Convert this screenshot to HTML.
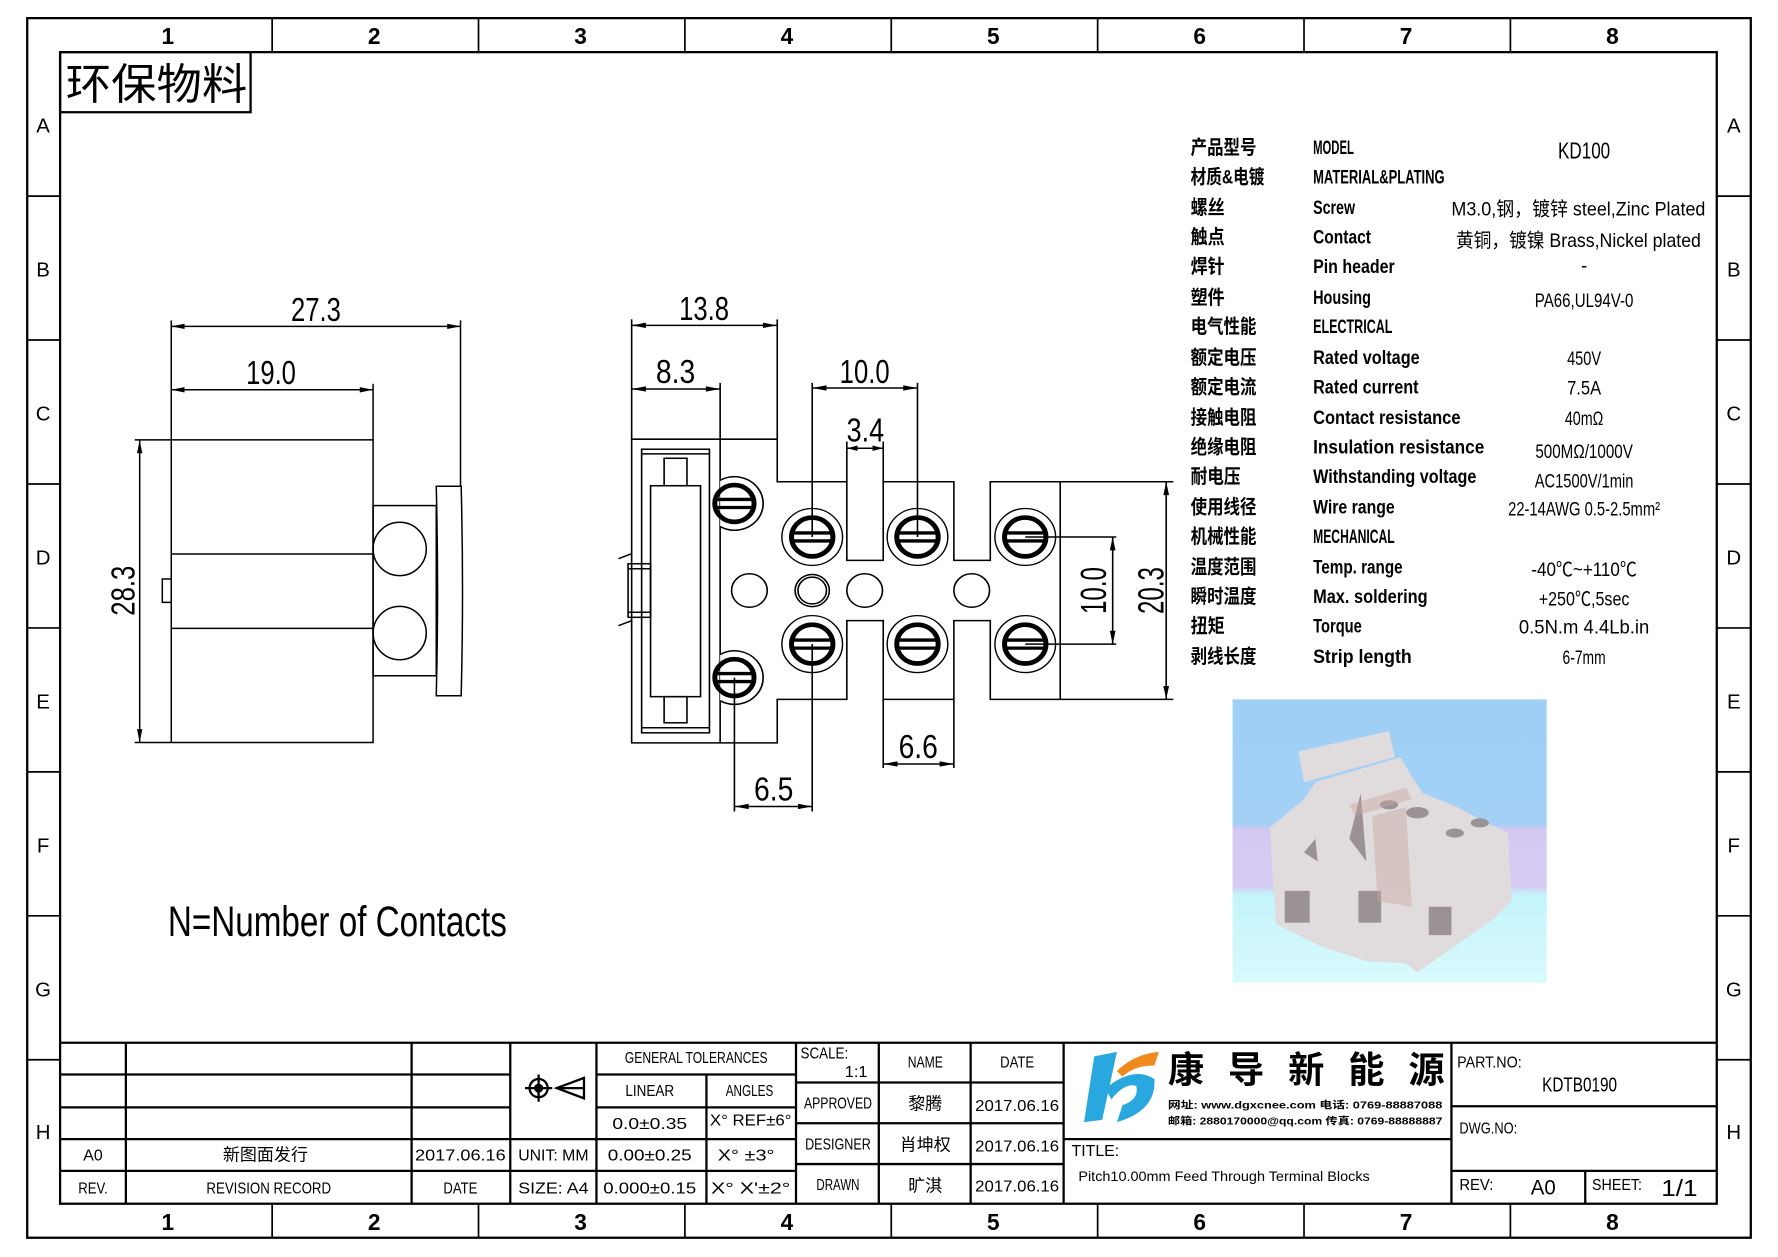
<!DOCTYPE html>
<html><head><meta charset="utf-8"><style>
html,body{margin:0;padding:0;background:#fff;}
svg{display:block;}
text{font-family:"Liberation Sans Narrow","Liberation Sans","Noto Sans CJK SC",sans-serif;fill:#000;}
.cj{font-family:"Liberation Sans","Noto Sans CJK SC",sans-serif;}
</style></head><body>
<svg width="1778" height="1257" viewBox="0 0 1568 1109" preserveAspectRatio="none" xmlns="http://www.w3.org/2000/svg">
<rect x="0" y="0" width="1568" height="1109" fill="#fff"/>
<!-- frame -->
<g fill="none" stroke="#000" stroke-width="2">
<rect x="24" y="16" width="1520" height="1076"/>
<rect x="53" y="46" width="1461" height="1016"/>
</g>
<g stroke="#000" stroke-width="1.5">
<line x1="240" y1="16" x2="240" y2="46"/><line x1="422" y1="16" x2="422" y2="46"/><line x1="604" y1="16" x2="604" y2="46"/><line x1="786" y1="16" x2="786" y2="46"/><line x1="968" y1="16" x2="968" y2="46"/><line x1="1150" y1="16" x2="1150" y2="46"/><line x1="1332" y1="16" x2="1332" y2="46"/>
<line x1="240" y1="1062" x2="240" y2="1092"/><line x1="422" y1="1062" x2="422" y2="1092"/><line x1="604" y1="1062" x2="604" y2="1092"/><line x1="786" y1="1062" x2="786" y2="1092"/><line x1="968" y1="1062" x2="968" y2="1092"/><line x1="1150" y1="1062" x2="1150" y2="1092"/><line x1="1332" y1="1062" x2="1332" y2="1092"/>
<line x1="24" y1="173" x2="53" y2="173"/><line x1="24" y1="300" x2="53" y2="300"/><line x1="24" y1="427" x2="53" y2="427"/><line x1="24" y1="554" x2="53" y2="554"/><line x1="24" y1="681" x2="53" y2="681"/><line x1="24" y1="808" x2="53" y2="808"/><line x1="24" y1="935" x2="53" y2="935"/>
<line x1="1514" y1="173" x2="1544" y2="173"/><line x1="1514" y1="300" x2="1544" y2="300"/><line x1="1514" y1="427" x2="1544" y2="427"/><line x1="1514" y1="554" x2="1544" y2="554"/><line x1="1514" y1="681" x2="1544" y2="681"/><line x1="1514" y1="808" x2="1544" y2="808"/><line x1="1514" y1="935" x2="1544" y2="935"/>
</g>
<g font-size="20" text-anchor="middle" font-weight="bold">
<text x="148" y="39">1</text><text x="330" y="39">2</text><text x="512" y="39">3</text><text x="694" y="39">4</text><text x="876" y="39">5</text><text x="1058" y="39">6</text><text x="1240" y="39">7</text><text x="1422" y="39">8</text>
<text x="148" y="1085">1</text><text x="330" y="1085">2</text><text x="512" y="1085">3</text><text x="694" y="1085">4</text><text x="876" y="1085">5</text><text x="1058" y="1085">6</text><text x="1240" y="1085">7</text><text x="1422" y="1085">8</text>
</g>
<g font-size="18" text-anchor="middle">
<text x="38" y="117">A</text><text x="38" y="244">B</text><text x="38" y="371">C</text><text x="38" y="498">D</text><text x="38" y="625">E</text><text x="38" y="752">F</text><text x="38" y="879">G</text><text x="38" y="1005">H</text>
<text x="1529" y="117">A</text><text x="1529" y="244">B</text><text x="1529" y="371">C</text><text x="1529" y="498">D</text><text x="1529" y="625">E</text><text x="1529" y="752">F</text><text x="1529" y="879">G</text><text x="1529" y="1005">H</text>
</g>
<!-- stamp -->
<rect x="53" y="46" width="168" height="53" fill="none" stroke="#000" stroke-width="2"/>
<text class="cj" x="58" y="88" font-size="38" textLength="160" lengthAdjust="spacingAndGlyphs">环保物料</text>

<!-- LEFT VIEW -->
<g transform="matrix(0.2932,0,0,0.2944,88,265)" fill="none" stroke="#000" stroke-width="4.5">
<rect x="215" y="418" width="607" height="907"/>
<line x1="215" y1="760" x2="822" y2="760"/><line x1="215" y1="983" x2="822" y2="983"/>
<rect x="188" y="835" width="27" height="70"/>
<rect x="822" y="615" width="190" height="510"/>
<circle cx="902" cy="745" r="80"/><circle cx="902" cy="997" r="80"/>
<path d="M1012,557 L1087,557 Q1095,870 1087,1185 L1012,1185 Q1020,870 1012,557Z"/>
<line x1="215" y1="60" x2="215" y2="418"/><line x1="1085" y1="60" x2="1085" y2="557"/>
<line x1="215" y1="78" x2="1085" y2="78"/>
<line x1="822" y1="250" x2="822" y2="418"/>
<line x1="215" y1="268" x2="822" y2="268"/>
<line x1="105" y1="418" x2="215" y2="418"/><line x1="105" y1="1325" x2="215" y2="1325"/>
<line x1="120" y1="418" x2="120" y2="1325"/>
<g fill="#000" stroke="none">
<path d="M215,78 l40,-8 v16z"/><path d="M1085,78 l-40,-8 v16z"/>
<path d="M215,268 l40,-8 v16z"/><path d="M822,268 l-40,-8 v16z"/>
<path d="M120,418 l-8,40 h16z"/><path d="M120,1325 l-8,-40 h16z"/>
</g>
<g fill="#000" stroke="none" font-size="100" text-anchor="middle">
<text x="650" y="62" textLength="150" lengthAdjust="spacingAndGlyphs">27.3</text>
<text x="515" y="250" textLength="150" lengthAdjust="spacingAndGlyphs">19.0</text>
<text x="0" y="0" transform="translate(105,870) rotate(-90)" textLength="150" lengthAdjust="spacingAndGlyphs">28.3</text>
</g>
</g>

<!-- RIGHT VIEW -->
<g transform="matrix(0.3147,0,0,0.2954,545.4,264)" fill="none" stroke="#000" stroke-width="4.5">
<path d="M37,418 L445,418 L445,545 L640,545 L640,780 L742,780 L742,545 L940,545 L940,780 L1042,780 L1042,545 L1238,545 L1238,1195 L1042,1195 L1042,960 L940,960 L940,1195 L742,1195 L742,960 L640,960 L640,1195 L445,1195 L445,1325 L37,1325 Z"/>
<line x1="285" y1="418" x2="285" y2="1325"/>
<rect x="65" y="448" width="190" height="847"/>
<rect x="90" y="557" width="140" height="630"/>
<rect x="128" y="475" width="64" height="82"/><rect x="128" y="1187" width="64" height="78"/>
<line x1="65" y1="462" x2="255" y2="462"/><line x1="65" y1="1280" x2="255" y2="1280"/>
<path d="M37,760 L0,775 M37,960 L0,975"/>
<rect x="27" y="790" width="63" height="160"/>
<line x1="27" y1="805" x2="90" y2="805"/><line x1="27" y1="935" x2="90" y2="935"/>
<path d="M285,541 A80,80 0 1 1 285,679" fill="#fff"/>
<path d="M285,1061 A80,80 0 1 1 285,1199" fill="#fff"/>
<circle cx="367" cy="870" r="50"/><circle cx="543" cy="870" r="48"/><circle cx="543" cy="870" r="40"/><circle cx="690" cy="870" r="50"/><circle cx="990" cy="870" r="50"/>
<!-- dims -->
<line x1="37" y1="60" x2="37" y2="418"/><line x1="445" y1="60" x2="445" y2="418"/>
<line x1="37" y1="78" x2="445" y2="78"/>
<line x1="285" y1="250" x2="285" y2="418"/>
<line x1="37" y1="268" x2="285" y2="268"/>
<line x1="543" y1="250" x2="543" y2="710"/><line x1="838" y1="250" x2="838" y2="710"/>
<line x1="543" y1="265" x2="838" y2="265"/>
<line x1="640" y1="425" x2="640" y2="545"/><line x1="742" y1="425" x2="742" y2="545"/>
<line x1="640" y1="445" x2="742" y2="445"/>
<line x1="1238" y1="545" x2="1555" y2="545"/><line x1="1238" y1="1195" x2="1555" y2="1195"/>
<line x1="1535" y1="545" x2="1535" y2="1195"/>
<line x1="1140" y1="710" x2="1395" y2="710"/><line x1="1140" y1="1030" x2="1395" y2="1030"/>
<line x1="1385" y1="710" x2="1385" y2="1030"/>
<line x1="742" y1="1195" x2="742" y2="1400"/><line x1="940" y1="1195" x2="940" y2="1400"/>
<line x1="742" y1="1388" x2="940" y2="1388"/>
<line x1="325" y1="1130" x2="325" y2="1530"/><line x1="543" y1="1030" x2="543" y2="1530"/>
<line x1="325" y1="1515" x2="543" y2="1515"/>
<g fill="#000" stroke="none">
<path d="M37,78 l40,-8 v16z"/><path d="M445,78 l-40,-8 v16z"/>
<path d="M37,268 l40,-8 v16z"/><path d="M285,268 l-40,-8 v16z"/>
<path d="M543,265 l40,-8 v16z"/><path d="M838,265 l-40,-8 v16z"/>
<path d="M640,445 l30,-8 v16z"/><path d="M742,445 l-30,-8 v16z"/>
<path d="M1535,545 l-8,40 h16z"/><path d="M1535,1195 l-8,-40 h16z"/>
<path d="M1385,710 l-8,40 h16z"/><path d="M1385,1030 l-8,-40 h16z"/>
<path d="M742,1388 l40,-8 v16z"/><path d="M940,1388 l-40,-8 v16z"/>
<path d="M325,1515 l40,-8 v16z"/><path d="M543,1515 l-40,-8 v16z"/>
</g>
<g fill="#000" stroke="none" font-size="100" text-anchor="middle">
<text x="240" y="62" textLength="140" lengthAdjust="spacingAndGlyphs">13.8</text>
<text x="160" y="250" textLength="110" lengthAdjust="spacingAndGlyphs">8.3</text>
<text x="690" y="250" textLength="140" lengthAdjust="spacingAndGlyphs">10.0</text>
<text x="692" y="425" textLength="105" lengthAdjust="spacingAndGlyphs">3.4</text>
<text x="840" y="1370" textLength="110" lengthAdjust="spacingAndGlyphs">6.6</text>
<text x="435" y="1497" textLength="110" lengthAdjust="spacingAndGlyphs">6.5</text>
<text x="0" y="0" transform="translate(1366,870) rotate(-90)" textLength="140" lengthAdjust="spacingAndGlyphs">10.0</text>
<text x="0" y="0" transform="translate(1528,870) rotate(-90)" textLength="140" lengthAdjust="spacingAndGlyphs">20.3</text>
</g>
</g>
<!-- screws -->
<g transform="matrix(0.3147,0,0,0.2954,545.4,264)" stroke="#000" fill="none">
<g stroke-width="4"><circle cx="543" cy="710" r="85"/><circle cx="838" cy="710" r="85"/><circle cx="1140" cy="710" r="85"/><circle cx="543" cy="1030" r="85"/><circle cx="838" cy="1030" r="85"/><circle cx="1140" cy="1030" r="85"/></g>
<g stroke-width="14">
<circle cx="325" cy="610" r="55"/><circle cx="325" cy="1130" r="55"/>
<circle cx="543" cy="710" r="58"/><circle cx="838" cy="710" r="58"/><circle cx="1140" cy="710" r="58"/><circle cx="543" cy="1030" r="58"/><circle cx="838" cy="1030" r="58"/><circle cx="1140" cy="1030" r="58"/>
</g>
<g stroke-width="10">
<path d="M270,598 h110 M270,622 h110 M270,1118 h110 M270,1142 h110"/>
<path d="M487,698 h112 M487,722 h112 M782,698 h112 M782,722 h112 M1084,698 h112 M1084,722 h112"/>
<path d="M487,1018 h112 M487,1042 h112 M782,1018 h112 M782,1042 h112 M1084,1018 h112 M1084,1042 h112"/>
</g>
</g>

<text x="148" y="826" font-size="38" textLength="299" lengthAdjust="spacingAndGlyphs">N=Number of Contacts</text>

<!-- spec table -->
<g font-size="17">
<g class="cj" font-weight="bold">
<text class="cj" x="1050" y="136" textLength="58" lengthAdjust="spacingAndGlyphs">产品型号</text>
<text class="cj" x="1050" y="162" textLength="65" lengthAdjust="spacingAndGlyphs">材质&amp;电镀</text>
<text class="cj" x="1050" y="189" textLength="30" lengthAdjust="spacingAndGlyphs">螺丝</text>
<text class="cj" x="1050" y="215" textLength="30" lengthAdjust="spacingAndGlyphs">触点</text>
<text class="cj" x="1050" y="241" textLength="30" lengthAdjust="spacingAndGlyphs">焊针</text>
<text class="cj" x="1050" y="268" textLength="30" lengthAdjust="spacingAndGlyphs">塑件</text>
<text class="cj" x="1050" y="294" textLength="58" lengthAdjust="spacingAndGlyphs">电气性能</text>
<text class="cj" x="1050" y="321" textLength="58" lengthAdjust="spacingAndGlyphs">额定电压</text>
<text class="cj" x="1050" y="347" textLength="58" lengthAdjust="spacingAndGlyphs">额定电流</text>
<text class="cj" x="1050" y="374" textLength="58" lengthAdjust="spacingAndGlyphs">接触电阻</text>
<text class="cj" x="1050" y="400" textLength="58" lengthAdjust="spacingAndGlyphs">绝缘电阻</text>
<text class="cj" x="1050" y="426" textLength="44" lengthAdjust="spacingAndGlyphs">耐电压</text>
<text class="cj" x="1050" y="453" textLength="58" lengthAdjust="spacingAndGlyphs">使用线径</text>
<text class="cj" x="1050" y="479" textLength="58" lengthAdjust="spacingAndGlyphs">机械性能</text>
<text class="cj" x="1050" y="506" textLength="58" lengthAdjust="spacingAndGlyphs">温度范围</text>
<text class="cj" x="1050" y="532" textLength="58" lengthAdjust="spacingAndGlyphs">瞬时温度</text>
<text class="cj" x="1050" y="558" textLength="30" lengthAdjust="spacingAndGlyphs">扭矩</text>
<text class="cj" x="1050" y="585" textLength="58" lengthAdjust="spacingAndGlyphs">剥线长度</text>
</g>
<g font-weight="bold">
<text x="1158" y="136" textLength="36" lengthAdjust="spacingAndGlyphs">MODEL</text>
<text x="1158" y="162" textLength="116" lengthAdjust="spacingAndGlyphs">MATERIAL&amp;PLATING</text>
<text x="1158" y="189" textLength="37" lengthAdjust="spacingAndGlyphs">Screw</text>
<text x="1158" y="215" textLength="51" lengthAdjust="spacingAndGlyphs">Contact</text>
<text x="1158" y="241" textLength="72" lengthAdjust="spacingAndGlyphs">Pin header</text>
<text x="1158" y="268" textLength="51" lengthAdjust="spacingAndGlyphs">Housing</text>
<text x="1158" y="294" textLength="70" lengthAdjust="spacingAndGlyphs">ELECTRICAL</text>
<text x="1158" y="321" textLength="94" lengthAdjust="spacingAndGlyphs">Rated voltage</text>
<text x="1158" y="347" textLength="93" lengthAdjust="spacingAndGlyphs">Rated current</text>
<text x="1158" y="374" textLength="130" lengthAdjust="spacingAndGlyphs">Contact resistance</text>
<text x="1158" y="400" textLength="151" lengthAdjust="spacingAndGlyphs">Insulation resistance</text>
<text x="1158" y="426" textLength="144" lengthAdjust="spacingAndGlyphs">Withstanding voltage</text>
<text x="1158" y="453" textLength="72" lengthAdjust="spacingAndGlyphs">Wire range</text>
<text x="1158" y="479" textLength="72" lengthAdjust="spacingAndGlyphs">MECHANICAL</text>
<text x="1158" y="506" textLength="79" lengthAdjust="spacingAndGlyphs">Temp. range</text>
<text x="1158" y="532" textLength="101" lengthAdjust="spacingAndGlyphs">Max. soldering</text>
<text x="1158" y="558" textLength="43" lengthAdjust="spacingAndGlyphs">Torque</text>
<text x="1158" y="585" textLength="87" lengthAdjust="spacingAndGlyphs">Strip length</text>
</g>
<g text-anchor="middle">
<text x="1397" y="140" font-size="20" textLength="46" lengthAdjust="spacingAndGlyphs">KD100</text>
<text x="1392" y="190" textLength="224" lengthAdjust="spacingAndGlyphs">M3.0,钢，镀锌 steel,Zinc Plated</text>
<text x="1392" y="218" textLength="216" lengthAdjust="spacingAndGlyphs">黄铜，镀镍 Brass,Nickel plated</text>
<text x="1397" y="240">-</text>
<text x="1397" y="271" textLength="87" lengthAdjust="spacingAndGlyphs">PA66,UL94V-0</text>
<text x="1397" y="322" textLength="30" lengthAdjust="spacingAndGlyphs">450V</text>
<text x="1397" y="348" textLength="30" lengthAdjust="spacingAndGlyphs">7.5A</text>
<text x="1397" y="375" textLength="34" lengthAdjust="spacingAndGlyphs">40mΩ</text>
<text x="1397" y="404" textLength="86" lengthAdjust="spacingAndGlyphs">500MΩ/1000V</text>
<text x="1397" y="430" textLength="87" lengthAdjust="spacingAndGlyphs">AC1500V/1min</text>
<text x="1397" y="455" textLength="134" lengthAdjust="spacingAndGlyphs">22-14AWG 0.5-2.5mm²</text>
<text x="1397" y="508" textLength="93" lengthAdjust="spacingAndGlyphs">-40℃~+110℃</text>
<text x="1397" y="534" textLength="80" lengthAdjust="spacingAndGlyphs">+250℃,5sec</text>
<text x="1397" y="559" textLength="115" lengthAdjust="spacingAndGlyphs">0.5N.m  4.4Lb.in</text>
<text x="1397" y="586" textLength="38" lengthAdjust="spacingAndGlyphs">6-7mm</text>
</g>
</g>

<!-- photo -->
<defs>
<linearGradient id="bg" x1="0" y1="0" x2="0" y2="1">
<stop offset="0" stop-color="#9fcff5"/><stop offset="0.44" stop-color="#a4d0f6"/>
<stop offset="0.46" stop-color="#d4c8f2"/><stop offset="0.66" stop-color="#d6ccf2"/>
<stop offset="0.69" stop-color="#c4f4fb"/><stop offset="1" stop-color="#d8fafd"/>
</linearGradient>
</defs>
<rect x="1087" y="617" width="277" height="250" fill="url(#bg)"/>
<g fill="#e0dcde" stroke="none">
<polygon points="1145,663 1225,645 1230,668 1150,690"/>
<polygon points="1120,730 1150,705 1160,690 1235,668 1245,685 1255,700 1285,712 1300,720 1330,735 1333,795 1318,810 1250,858 1240,850 1205,848 1165,835 1125,815"/>
</g>
<g fill="#9a9294">
<rect x="1133" y="786" width="22" height="28"/><rect x="1198" y="786" width="20" height="28"/><rect x="1260" y="800" width="20" height="25"/>
<polygon points="1150,752 1160,740 1162,760"/><polygon points="1190,740 1200,700 1205,760"/>
<ellipse cx="1250" cy="717" rx="10" ry="5"/><ellipse cx="1283" cy="735" rx="8" ry="4"/><ellipse cx="1305" cy="726" rx="8" ry="4"/><ellipse cx="1225" cy="710" rx="8" ry="4"/>
</g>
<g fill="#c9a8a0" opacity="0.45"><polygon points="1190,710 1240,695 1245,705 1195,720"/><polygon points="1210,720 1240,712 1245,800 1215,795"/></g>

<!-- title block -->
<g stroke="#000" stroke-width="2" fill="none">
<line x1="53" y1="920" x2="1514" y2="920"/>
<line x1="53" y1="948" x2="450" y2="948"/><line x1="53" y1="977" x2="450" y2="977"/><line x1="53" y1="1005" x2="702" y2="1005"/><line x1="53" y1="1033" x2="702" y2="1033"/>
<line x1="526" y1="948" x2="702" y2="948"/><line x1="526" y1="977" x2="702" y2="977"/>
<line x1="111" y1="920" x2="111" y2="1062"/><line x1="363" y1="920" x2="363" y2="1062"/><line x1="450" y1="920" x2="450" y2="1062"/><line x1="526" y1="920" x2="526" y2="1062"/><line x1="623" y1="948" x2="623" y2="1062"/><line x1="702" y1="920" x2="702" y2="1062"/>
<line x1="775" y1="920" x2="775" y2="1062"/><line x1="856" y1="920" x2="856" y2="1062"/><line x1="938" y1="920" x2="938" y2="1062"/>
<line x1="702" y1="955" x2="938" y2="955"/><line x1="702" y1="991" x2="938" y2="991"/><line x1="702" y1="1027" x2="938" y2="1027"/>
<line x1="938" y1="1005" x2="1280" y2="1005"/>
<line x1="1280" y1="920" x2="1280" y2="1062"/>
<line x1="1280" y1="976" x2="1514" y2="976"/><line x1="1280" y1="1033" x2="1514" y2="1033"/>
<line x1="1398" y1="1033" x2="1398" y2="1062"/>
</g>
<g stroke="#000" fill="none" stroke-width="2">
<circle cx="475" cy="960" r="8"/><circle cx="475" cy="960" r="3" fill="#000"/>
<line x1="463" y1="960" x2="487" y2="960"/><line x1="475" y1="948" x2="475" y2="972"/>
<path d="M491,960 L515,951 L515,969 Z M491,960 h24"/>
</g>
<g font-size="14" text-anchor="middle">
<text x="82" y="1024">A0</text><text x="82" y="1053" textLength="26" lengthAdjust="spacingAndGlyphs">REV.</text>
<text class="cj" x="234" y="1024" font-size="15">新图面发行</text>
<text x="237" y="1053" textLength="110" lengthAdjust="spacingAndGlyphs">REVISION RECORD</text>
<text x="406" y="1024" textLength="80" lengthAdjust="spacingAndGlyphs">2017.06.16</text>
<text x="406" y="1053" textLength="30" lengthAdjust="spacingAndGlyphs">DATE</text>
<text x="488" y="1024" textLength="62" lengthAdjust="spacingAndGlyphs">UNIT: MM</text>
<text x="488" y="1053" textLength="62" lengthAdjust="spacingAndGlyphs">SIZE: A4</text>
<text x="614" y="938" textLength="126" lengthAdjust="spacingAndGlyphs">GENERAL TOLERANCES</text>
<text x="573" y="967" textLength="43" lengthAdjust="spacingAndGlyphs">LINEAR</text>
<text x="661" y="967" textLength="42" lengthAdjust="spacingAndGlyphs">ANGLES</text>
<text x="573" y="996" textLength="66" lengthAdjust="spacingAndGlyphs">0.0±0.35</text>
<text x="573" y="1024" textLength="74" lengthAdjust="spacingAndGlyphs">0.00±0.25</text>
<text x="573" y="1053" textLength="82" lengthAdjust="spacingAndGlyphs">0.000±0.15</text>
<text x="662" y="993" textLength="72" lengthAdjust="spacingAndGlyphs">X° REF±6°</text>
<text x="658" y="1024" textLength="50" lengthAdjust="spacingAndGlyphs">X° ±3°</text>
<text x="662" y="1053" textLength="70" lengthAdjust="spacingAndGlyphs">X° X'±2°</text>
<text x="727" y="934" textLength="42" lengthAdjust="spacingAndGlyphs">SCALE:</text>
<text x="755" y="950" textLength="20" lengthAdjust="spacingAndGlyphs">1:1</text>
<text x="816" y="942" textLength="31" lengthAdjust="spacingAndGlyphs">NAME</text>
<text x="897" y="942" textLength="30" lengthAdjust="spacingAndGlyphs">DATE</text>
<text x="739" y="978" textLength="60" lengthAdjust="spacingAndGlyphs">APPROVED</text>
<text x="739" y="1014" textLength="58" lengthAdjust="spacingAndGlyphs">DESIGNER</text>
<text x="739" y="1050" textLength="38" lengthAdjust="spacingAndGlyphs">DRAWN</text>
<text class="cj" x="816" y="979" font-size="15">黎腾</text>
<text class="cj" x="816" y="1015" font-size="15">肖坤权</text>
<text class="cj" x="816" y="1051" font-size="15">旷淇</text>
<text x="897" y="980" textLength="74" lengthAdjust="spacingAndGlyphs">2017.06.16</text>
<text x="897" y="1016" textLength="74" lengthAdjust="spacingAndGlyphs">2017.06.16</text>
<text x="897" y="1051" textLength="74" lengthAdjust="spacingAndGlyphs">2017.06.16</text>
</g>
<g font-size="14">
<text x="945" y="1020" textLength="42" lengthAdjust="spacingAndGlyphs">TITLE:</text>
<text x="951" y="1042" font-size="12" textLength="257" lengthAdjust="spacingAndGlyphs">Pitch10.00mm Feed Through Terminal Blocks</text>
<text x="1285" y="942" textLength="57" lengthAdjust="spacingAndGlyphs">PART.NO:</text>
<text x="1360" y="963" font-size="18" textLength="66" lengthAdjust="spacingAndGlyphs">KDTB0190</text>
<text x="1287" y="1000" textLength="51" lengthAdjust="spacingAndGlyphs">DWG.NO:</text>
<text x="1287" y="1050" textLength="30" lengthAdjust="spacingAndGlyphs">REV:</text>
<text x="1350" y="1054" font-size="19" textLength="22" lengthAdjust="spacingAndGlyphs">A0</text>
<text x="1404" y="1050" textLength="44" lengthAdjust="spacingAndGlyphs">SHEET:</text>
<text x="1465" y="1055" font-size="20" textLength="32" lengthAdjust="spacingAndGlyphs">1/1</text>
</g>
<!-- logo -->
<path d="M965,932 L985,928 L972,988 L956,990 Z" fill="#29a8e0"/>
<path d="M975,960 Q1000,940 1018,952 Q1020,980 985,990 L990,975 Q1005,970 1002,958 Q992,955 980,970 Z" fill="#29a8e0"/>
<path d="M985,945 Q1000,930 1022,928 L1018,940 Q1000,940 990,950 Z" fill="#f08a1c"/>
<g class="cj" font-size="32" font-weight="bold">
<text class="cj" x="1030" y="955">康</text><text class="cj" x="1083" y="955">导</text><text class="cj" x="1136" y="955">新</text><text class="cj" x="1189" y="955">能</text><text class="cj" x="1242" y="955">源</text>
</g>
<g class="cj" font-size="9" font-weight="bold">
<text class="cj" x="1030" y="978" textLength="242" lengthAdjust="spacingAndGlyphs">网址: www.dgxcnee.com   电话: 0769-88887088</text>
<text class="cj" x="1030" y="992" textLength="242" lengthAdjust="spacingAndGlyphs">邮箱: 2880170000@qq.com 传真: 0769-88888887</text>
</g>
</svg>
</body></html>
